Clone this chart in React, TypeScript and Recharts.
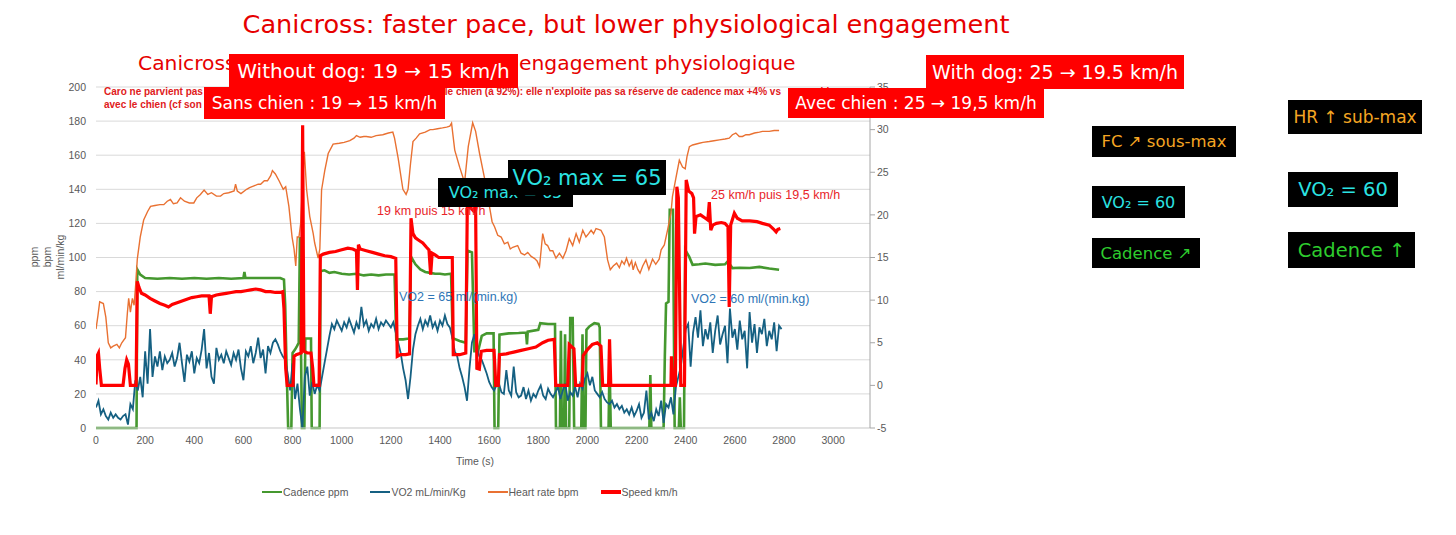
import React from 'react';
import { LineChart, Line, XAxis, YAxis, CartesianGrid } from 'recharts';

// time (s) / value pairs
const cadence: number[][] = [
  [0, 0], [165, 0], [168, 93], [180, 90], [200, 88], [250, 87.5], [300, 88], [350, 87.5], [400, 88], [450, 87.5],
  [500, 88], [550, 87.5], [600, 88], [604, 91.5], [608, 88], [650, 88], [700, 88], [750, 88], [765, 87], [770, 72],
  [775, 40], [782, 0], [795, 0], [800, 44], [810, 46], [818, 48], [825, 50], [830, 112], [834, 50], [838, 0],
  [848, 0], [852, 52.5], [875, 52.5], [878, 0], [910, 0], [914, 92], [930, 92.5], [950, 91], [970, 91.5], [1000, 90.5],
  [1030, 90], [1060, 90.5], [1090, 89.5], [1120, 90], [1150, 89.5], [1180, 90], [1215, 90], [1222, 52], [1250, 52], [1275, 52.5],
  [1282, 100.5], [1300, 96], [1320, 93], [1340, 91.5], [1360, 91], [1380, 90.5], [1400, 90.5], [1420, 90], [1445, 90.5], [1452, 52.7],
  [1480, 51], [1505, 50], [1512, 104], [1530, 103], [1540, 45], [1555, 45], [1570, 54], [1590, 55.5], [1618, 55.5], [1622, 0],
  [1637, 0], [1642, 54.7], [1680, 55.5], [1720, 55.7], [1750, 56], [1754, 49], [1757, 56.5], [1800, 57.6], [1808, 61.5], [1840, 61],
  [1868, 61], [1872, 0], [1888, 0], [1892, 57], [1896, 0], [1905, 0], [1909, 55], [1913, 0], [1926, 0], [1930, 64.5],
  [1940, 64.5], [1946, 0], [1975, 0], [1980, 55], [1984, 0], [1992, 0], [1996, 57.6], [2008, 59.6], [2028, 61.5], [2045, 61],
  [2050, 59], [2055, 0], [2086, 0], [2090, 39], [2095, 0], [2252, 0], [2256, 31], [2260, 0], [2310, 0], [2315, 42],
  [2320, 73], [2330, 74], [2335, 128], [2348, 128], [2355, 0], [2372, 0], [2376, 18], [2380, 0], [2393, 0], [2398, 104.5],
  [2414, 100.5], [2428, 95.7], [2455, 96], [2480, 96.5], [2520, 95.7], [2560, 96], [2571, 97.7], [2590, 93.8], [2620, 94], [2660, 93.8],
  [2700, 94.5], [2740, 93.5], [2780, 92.8],
];

// VO2 sampled every 10 s from t = 0
const VO2_STEP = 10;
const vo2: number[] = [
  12, 16, 8, 11, 7, 5, 9, 6, 8, 6,
  5, 7, 8, 2, 14, 11, 28, 22, 30, 18,
  45, 26, 58, 30, 42, 36, 45, 34, 42, 38,
  40, 44, 36, 41, 50, 38, 27, 43, 39, 45,
  32, 41, 38, 46, 58, 35, 44, 30, 26, 47,
  40, 43, 38, 45, 41, 37, 44, 40, 46, 35,
  28, 45, 42, 48, 38, 44, 53, 41, 46, 32,
  48, 44, 50, 52, 49, 45, 42, 40, 32, 22,
  38, 17, 26, 11, 0, 30, 36, 19, 27, 20,
  25, 22, 30, 38, 46, 54, 61, 58, 63, 60,
  57, 62, 59, 64, 60, 56, 62, 58, 71, 60,
  63, 57, 61, 59, 64, 58, 62, 60, 63, 61,
  59, 62, 56, 50, 44, 35, 28, 17, 30, 46,
  55, 60, 64, 58, 63, 60, 66, 59, 62, 57,
  63, 60, 66, 61, 59, 53, 45, 42, 35, 30,
  24, 16, 35, 50, 55, 47, 42, 40, 36, 32,
  27, 24, 22, 25, 26, 21, 20, 34, 22, 19,
  36, 21, 18, 19, 24, 17, 22, 16, 20, 18,
  22, 25, 19, 17, 23, 20, 18, 21, 24, 17,
  22, 26, 16, 21, 19, 24, 18, 26, 23, 29,
  32, 25, 30, 22, 20, 18, 21, 17, 15, 14,
  16, 12, 14, 11, 13, 9, 11, 8, 12, 7,
  10, 14, 6, 9, 22, 5, 9, 4, 11, 7,
  16, 3, 14, 12, 18, 8, 24, 30, 36, 47,
  58, 61, 36, 56, 65, 53, 69, 48, 58, 52,
  62, 44, 57, 66, 49, 55, 60, 38, 70, 53,
  58, 46, 63, 52, 57, 35, 68, 50, 61, 44,
  59, 55, 64, 48, 57, 52, 62, 45, 60, 58,
];

const heartRate: number[][] = [
  [0, 58], [8, 66], [15, 74], [30, 73], [40, 65], [50, 50], [60, 47], [70, 48], [85, 49], [95, 47],
  [105, 50], [120, 53], [128, 68], [133, 76], [140, 68], [148, 76], [155, 72], [162, 85], [168, 99], [180, 112],
  [194, 122], [210, 127], [222, 130], [240, 130.5], [260, 131], [276, 131], [290, 133], [303, 134], [315, 131.5], [330, 132],
  [344, 135], [360, 133], [380, 132], [398, 132], [410, 135], [425, 137], [440, 139.5], [455, 137], [470, 138], [490, 136],
  [507, 136], [520, 137.5], [540, 138], [562, 139], [568, 143], [575, 139], [590, 137.5], [613, 140], [625, 141], [643, 142],
  [660, 143], [670, 143], [685, 145], [698, 145], [711, 148], [718, 151], [730, 149], [745, 145], [762, 140], [772, 141.5],
  [785, 130], [798, 112], [806, 105], [813, 95], [819, 112], [826, 112], [833, 120], [843, 150], [848, 162], [857, 140],
  [870, 124], [884, 114], [890, 108.5], [904, 99.6], [911, 105], [918, 139.6], [931, 151], [945, 161], [965, 166.5], [990, 167],
  [1010, 167.5], [1033, 168.5], [1050, 170], [1060, 171.5], [1075, 170.5], [1090, 171], [1100, 171], [1120, 170.5], [1140, 171.5], [1167, 172],
  [1190, 173], [1208, 173.5], [1215, 170], [1230, 158], [1249, 140], [1262, 137], [1270, 140], [1280, 155], [1290, 168], [1303, 170],
  [1317, 172.5], [1340, 173.5], [1360, 175], [1371, 175], [1390, 175.5], [1410, 176], [1427, 176.5], [1440, 177], [1447, 178.8], [1460, 163],
  [1480, 153], [1500, 144], [1515, 165], [1533, 179], [1545, 174], [1561, 161], [1575, 151], [1589, 141], [1600, 131], [1612, 121],
  [1622, 118], [1635, 113], [1649, 112], [1662, 108], [1676, 109], [1686, 105], [1696, 106], [1716, 107], [1730, 102.5], [1744, 101.5],
  [1757, 103], [1771, 100.6], [1784, 99.5], [1795, 98], [1805, 94.7], [1812, 105], [1818, 114], [1828, 108], [1838, 107], [1848, 104],
  [1859, 104], [1872, 99.6], [1886, 102.5], [1900, 99.5], [1913, 104], [1926, 111], [1940, 107], [1954, 114], [1967, 109], [1981, 116],
  [1994, 112], [2005, 114], [2015, 116], [2025, 114], [2035, 117], [2045, 116.5], [2055, 116], [2069, 112], [2082, 98.6], [2093, 92.8],
  [2105, 95], [2119, 96.7], [2130, 94], [2140, 98], [2150, 96], [2159, 99.6], [2170, 95], [2180, 98], [2186, 92.8], [2195, 97],
  [2205, 93], [2214, 90.8], [2225, 95], [2238, 98.6], [2250, 93], [2265, 99], [2278, 96], [2292, 99], [2300, 104.5], [2313, 107.4],
  [2326, 116], [2340, 126], [2346, 135.7], [2360, 146.6], [2374, 157], [2387, 153], [2398, 152], [2405, 159], [2415, 165], [2428, 166],
  [2455, 167], [2470, 167.5], [2496, 168], [2515, 168.5], [2537, 169], [2560, 169.5], [2577, 170], [2590, 172], [2604, 173], [2618, 171],
  [2631, 171], [2645, 172], [2659, 172], [2680, 173], [2700, 173.5], [2712, 174], [2740, 174], [2760, 174.5], [2780, 174.5],
];

// km/h, right axis
const speed: number[][] = [
  [0, 0.1], [5, 3.5], [10, 3.8], [15, 2], [22, 0], [110, 0], [118, 2], [125, 3], [132, 2.5], [140, 0],
  [163, 0], [168, 12.2], [175, 11.5], [185, 10.8], [200, 10.6], [220, 10.2], [240, 9.9], [260, 9.6], [280, 9.4], [295, 9.2],
  [310, 9.5], [330, 9.7], [350, 9.9], [370, 10.1], [390, 10.3], [410, 10.4], [430, 10.5], [460, 10.5], [465, 8.4], [470, 10.4],
  [490, 10.6], [510, 10.7], [530, 10.8], [550, 10.9], [570, 11.0], [590, 11.0], [610, 11.1], [630, 11.2], [650, 11.3], [670, 11.2],
  [690, 11.0], [710, 11.0], [730, 10.9], [750, 10.9], [760, 11.0], [765, 9], [772, 2], [778, 0], [802, 0], [806, 3.4],
  [815, 3.6], [826, 3.7], [835, 3.8], [841, 30.5], [846, 4], [860, 3.8], [875, 3.8], [882, 2], [887, 0], [908, 0],
  [913, 15.2], [925, 15.4], [950, 15.6], [975, 15.7], [1000, 15.9], [1025, 16.1], [1045, 16.0], [1060, 15.8], [1064, 11.2], [1068, 16.5],
  [1075, 16.0], [1100, 15.8], [1125, 15.6], [1150, 15.4], [1175, 15.2], [1200, 15.1], [1220, 14.9], [1226, 3.4], [1240, 3.6], [1260, 3.6],
  [1276, 3.7], [1282, 19.6], [1290, 17.8], [1300, 17.3], [1315, 17.0], [1330, 16.7], [1345, 16.2], [1355, 15.9], [1362, 13], [1368, 15.5],
  [1380, 15.3], [1395, 15.0], [1420, 15.0], [1450, 15.0], [1454, 3.6], [1480, 3.6], [1505, 3.8], [1512, 23.5], [1520, 21], [1535, 20.5],
  [1545, 21], [1550, 2], [1560, 1.9], [1568, 4], [1590, 4.1], [1620, 4.1], [1627, 0], [1637, 0], [1642, 3.6], [1670, 3.7],
  [1700, 3.9], [1730, 4.1], [1760, 4.3], [1790, 4.5], [1818, 5.0], [1840, 5.3], [1865, 5.4], [1871, 0], [1920, 0], [1926, 4.8],
  [1945, 4.3], [1952, 0], [1978, 0], [1983, 3.5], [2000, 4.2], [2020, 4.8], [2040, 5.0], [2055, 4.6], [2062, 0], [2086, 0],
  [2090, 5.4], [2095, 0], [2340, 0], [2342, 3.4], [2348, 0], [2358, 0], [2364, 23.3], [2370, 22], [2380, 0], [2395, 0],
  [2402, 24.1], [2412, 22.8], [2425, 22.5], [2432, 22], [2436, 17.8], [2442, 19.8], [2460, 20], [2480, 19.6], [2490, 19.4], [2496, 21.5],
  [2502, 18.2], [2510, 18.8], [2525, 19.0], [2545, 19.1], [2560, 19.0], [2572, 18.6], [2577, 9.2], [2583, 18.8], [2598, 20.2], [2610, 19.6],
  [2630, 19.3], [2660, 19.3], [2690, 19.2], [2712, 19.0], [2740, 18.8], [2755, 18.4], [2768, 18.0], [2775, 18.3], [2785, 18.4],
];

const xTicks = [0, 200, 400, 600, 800, 1000, 1200, 1400, 1600, 1800, 2000, 2200, 2400, 2600, 2800, 3000];
const leftTicks = [0, 20, 40, 60, 80, 100, 120, 140, 160, 180, 200];
const rightTicks = [-5, 0, 5, 10, 15, 20, 25, 30, 35];

const seriesNames = ['Cadence ppm', 'VO2 mL/min/Kg', 'Heart rate bpm', 'Speed km/h'];
const seriesColors = ['#45982F', '#156082', '#E97132', '#FF0000'];
const seriesWidths = [2.6, 1.8, 1.4, 3.2];

const toPts = (pairs: number[][]) => pairs.map(([t, v]) => ({ t, v }));
const cadencePts = toPts(cadence);
const vo2Pts = vo2.map((v, i) => ({ t: i * VO2_STEP, v }));
const hrPts = toPts(heartRate);
const speedPts = toPts(speed);

const CHART_FONT = '"Liberation Sans", Arial, sans-serif';
const BOX_FONT = '"DejaVu Sans", sans-serif';
const TICK = { fill: '#595959', fontSize: 10.5, fontFamily: CHART_FONT };

type BoxProps = {
  x: number; y: number; w: number; h: number;
  bg: string; color: string; size: number; text: string;
};

const Box = ({ x, y, w, h, bg, color, size, text }: BoxProps) => (
  <div
    style={{
      position: 'absolute', left: x, top: y, width: w, height: h, background: bg, color,
      fontFamily: BOX_FONT, fontSize: size, display: 'flex', alignItems: 'center',
      justifyContent: 'center', whiteSpace: 'nowrap', overflow: 'hidden',
    }}
  >
    {text}
  </div>
);

export default function App() {
  return (
    <div style={{ position: 'absolute', left: 0, top: 0, width: 1456, height: 535, background: '#fff', overflow: 'hidden' }}>
      <div style={{ position: 'absolute', left: 0, top: 0 }}>
        <LineChart width={1456} height={535} margin={{ top: 87, right: 546, bottom: 77, left: 56 }}>
          <CartesianGrid yAxisId="left" vertical={false} stroke="#d9d9d9" />
          <XAxis
            dataKey="t" type="number" domain={[0, 3150]} ticks={xTicks} allowDataOverflow
            height={30} tickLine={false} axisLine={{ stroke: '#d9d9d9' }} tick={TICK} tickSize={7}
          />
          <YAxis
            yAxisId="left" domain={[0, 200]} ticks={leftTicks} width={40}
            axisLine={false} tickLine={false} tickSize={8} tick={TICK}
          />
          <YAxis
            yAxisId="right" orientation="right" domain={[-5, 35]} ticks={rightTicks} width={40}
            axisLine={{ stroke: '#a6a6a6' }} tickLine={{ stroke: '#a6a6a6' }} tickSize={5} tick={TICK}
          />
          <Line yAxisId="left" data={cadencePts} dataKey="v" name={seriesNames[0]} type="linear"
            stroke={seriesColors[0]} strokeWidth={seriesWidths[0]} dot={false} activeDot={false} isAnimationActive={false} />
          <Line yAxisId="left" data={vo2Pts} dataKey="v" name={seriesNames[1]} type="linear"
            stroke={seriesColors[1]} strokeWidth={seriesWidths[1]} dot={false} activeDot={false} isAnimationActive={false} />
          <Line yAxisId="left" data={hrPts} dataKey="v" name={seriesNames[2]} type="linear"
            stroke={seriesColors[2]} strokeWidth={seriesWidths[2]} dot={false} activeDot={false} isAnimationActive={false} />
          <Line yAxisId="right" data={speedPts} dataKey="v" name={seriesNames[3]} type="linear"
            stroke={seriesColors[3]} strokeWidth={seriesWidths[3]} dot={false} activeDot={false} isAnimationActive={false} />
        </LineChart>
      </div>

      {/* chart texts */}
      <svg width={1456} height={535} style={{ position: 'absolute', left: 0, top: 0, pointerEvents: 'none' }}>
        <g fontFamily={CHART_FONT} fill="#595959" fontSize={10.5} textAnchor="middle">
          <text transform="translate(38,257) rotate(-90)">ppm</text>
          <text transform="translate(51,257) rotate(-90)">bpm</text>
          <text transform="translate(64,257) rotate(-90)">ml/min/kg</text>
          <text x={475} y={465}>Time (s)</text>
        </g>
        <g fontFamily={CHART_FONT} fontWeight="bold" fontSize={10} fill="#e0201c">
          <text x={104} y={95}>{"Caro ne parvient pas\u00a0\u00a0\u00a0à atteindre la FC max qu'elle atteint en solo sans le chien (à 92%): elle n'exploite pas sa réserve de cadence max +4% vs\u00a0\u00a0\u00a0sans chien"}</text>
          <text x={104} y={108}>{"avec le chien (cf son\u00a0\u00a0\u00a0VO2 plus bas)"}</text>
        </g>
        <g fontFamily={CHART_FONT} fontSize={12.5}>
          <text x={377} y={215} fill="#e8252a">19 km puis 15 km/h</text>
          <text x={711} y={199} fill="#e8252a">25 km/h puis 19,5 km/h</text>
          <text x={399} y={301} fill="#2e75b6">VO2 = 65 ml/(min.kg)</text>
          <text x={691} y={303} fill="#2e75b6">VO2 = 60 ml/(min.kg)</text>
        </g>
      </svg>

      {/* legend */}
      <div style={{ position: 'absolute', left: 262, top: 486, display: 'flex', fontFamily: CHART_FONT, fontSize: 10.5, color: '#595959' }}>
        {seriesNames.map((n, i) => (
          <div key={n} style={{ display: 'flex', alignItems: 'center', marginRight: 22 }}>
            <div style={{ width: 20, height: Math.max(2, seriesWidths[i]), background: seriesColors[i], marginRight: 1 }} />
            <span>{n}</span>
          </div>
        ))}
      </div>

      {/* titles */}
      <div style={{ position: 'absolute', left: 0, width: 1252, top: 9, textAlign: 'center', fontFamily: BOX_FONT, fontSize: 25.6, color: '#e60000', whiteSpace: 'nowrap' }}>
        Canicross: faster pace, but lower physiological engagement
      </div>
      <div style={{ position: 'absolute', left: 138, top: 51, fontFamily: BOX_FONT, fontSize: 20.3, color: '#e60000', whiteSpace: 'nowrap' }}>
        Canicros<span style={{ letterSpacing: -0.5 }}>s : allure plus rapide, moindre </span>engagement physiologique
      </div>

      {/* overlay boxes */}
      <Box x={229} y={54} w={289} h={34} bg="#ff0000" color="#fff" size={20} text="Without dog: 19 → 15 km/h" />
      <Box x={204} y={87} w={241} h={32} bg="#ff0000" color="#fff" size={17} text="Sans chien : 19 → 15 km/h" />
      <Box x={926} y={55} w={258} h={34} bg="#ff0000" color="#fff" size={19} text="With dog: 25 → 19.5 km/h" />
      <Box x={788} y={88} w={256} h={30} bg="#ff0000" color="#fff" size={17} text="Avec chien : 25 → 19,5 km/h" />
      <Box x={438} y={178} w={135} h={29} bg="#000" color="#2be3e3" size={16} text="VO₂ max = 65" />
      <Box x={508} y={160} w={158} h={35} bg="#000" color="#2be3e3" size={21} text="VO₂ max = 65" />
      <Box x={1092} y={126} w={144} h={31} bg="#000" color="#f5a623" size={16.5} text="FC ↗ sous-max" />
      <Box x={1092} y={186} w={93} h={32} bg="#000" color="#2be3e3" size={16} text="VO₂ = 60" />
      <Box x={1092} y={238} w={108} h={30} bg="#000" color="#2ecc2e" size={16.5} text="Cadence ↗" />
      <Box x={1288} y={100} w={134} h={34} bg="#000" color="#f5a623" size={17} text="HR ↑ sub-max" />
      <Box x={1288} y={172} w={110} h={35} bg="#000" color="#2be3e3" size={19.5} text="VO₂ = 60" />
      <Box x={1288} y={232} w={127} h={36} bg="#000" color="#2ecc2e" size={19.5} text="Cadence ↑" />
    </div>
  );
}
